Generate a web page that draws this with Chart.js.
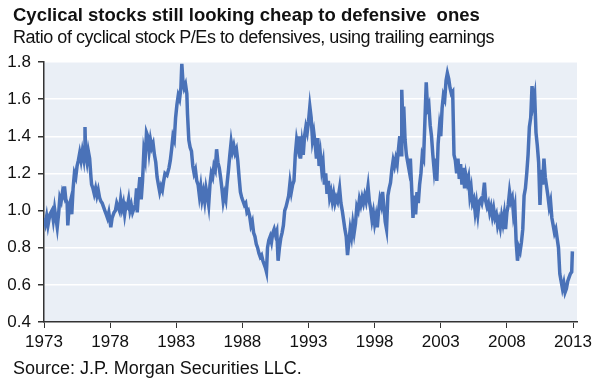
<!DOCTYPE html>
<html>
<head>
<meta charset="utf-8">
<script src="https://cdn.jsdelivr.net/npm/chart.js@4"></script>
<style>
  body { margin: 0; background: #fff; font-family: 'Liberation Sans', Arial, sans-serif; }
  #wrap { position: relative; width: 600px; height: 390px; }
  canvas { position: absolute; left: 0; top: 0; }
  .txt { position: absolute; left: 13px; white-space: pre; color: #111; line-height: 1; }
  #title { top: 6px; font-size: 18.5px; font-weight: bold; }
  #subtitle { top: 28px; font-size: 18px; letter-spacing: -0.45px; }
  #source { top: 359px; font-size: 18px; letter-spacing: 0px; }
</style>
</head>
<body>
<div id="wrap">
  <canvas id="chart" width="600" height="390"></canvas>
  <div class="txt" id="title">Cyclical stocks still looking cheap to defensive  ones</div>
  <div class="txt" id="subtitle">Ratio of cyclical stock P/Es to defensives, using trailing earnings</div>
  <div class="txt" id="source">Source: J.P. Morgan Securities LLC.</div>
</div>
<script>
// ratio of cyclical to defensive P/E
const years = [
  1973.0,1973.1,1973.2,1973.3,1973.45,1973.6,1973.7,1973.8,1973.9,1974.0,
  1974.1,1974.2,1974.3,1974.4,1974.5,1974.55,1974.65,1974.75,1974.8,1974.9,
  1975.0,1975.1,1975.2,1975.3,1975.4,1975.5,1975.6,1975.7,1975.8,1975.9,
  1976.0,1976.05,1976.1,1976.15,1976.25,1976.35,1976.45,1976.55,1976.6,1976.7,
  1976.8,1976.9,1977.0,1977.1,1977.2,1977.3,1977.4,1977.5,1977.6,1977.7,
  1977.8,1977.9,1978.0,1978.05,1978.15,1978.3,1978.4,1978.5,1978.6,1978.7,
  1978.8,1978.9,1979.0,1979.1,1979.2,1979.3,1979.4,1979.5,1979.6,1979.7,
  1979.8,1979.9,1980.0,1980.05,1980.15,1980.25,1980.35,1980.45,1980.55,1980.65,
  1980.75,1980.85,1980.95,1981.05,1981.15,1981.25,1981.35,1981.45,1981.55,1981.65,
  1981.75,1981.85,1981.95,1982.05,1982.15,1982.3,1982.45,1982.55,1982.65,1982.75,
  1982.85,1982.95,1983.05,1983.15,1983.25,1983.35,1983.42,1983.5,1983.6,1983.7,
  1983.8,1983.85,1983.95,1984.05,1984.15,1984.25,1984.35,1984.45,1984.55,1984.65,
  1984.75,1984.85,1984.95,1985.05,1985.15,1985.25,1985.35,1985.45,1985.55,1985.65,
  1985.75,1985.85,1985.95,1986.05,1986.15,1986.25,1986.35,1986.45,1986.55,1986.65,
  1986.75,1986.85,1986.95,1987.05,1987.15,1987.25,1987.35,1987.45,1987.55,1987.65,
  1987.75,1987.85,1987.95,1988.05,1988.15,1988.25,1988.35,1988.45,1988.55,1988.65,
  1988.75,1988.85,1988.95,1989.05,1989.15,1989.25,1989.35,1989.45,1989.55,1989.65,
  1989.75,1989.82,1989.9,1990.0,1990.1,1990.2,1990.3,1990.4,1990.5,1990.6,
  1990.7,1990.8,1990.9,1991.0,1991.1,1991.2,1991.3,1991.4,1991.5,1991.6,
  1991.7,1991.8,1991.9,1992.0,1992.1,1992.2,1992.3,1992.4,1992.5,1992.6,
  1992.7,1992.8,1992.9,1993.0,1993.1,1993.2,1993.3,1993.4,1993.5,1993.6,
  1993.7,1993.8,1993.9,1994.0,1994.1,1994.2,1994.3,1994.4,1994.5,1994.6,
  1994.7,1994.8,1994.9,1995.0,1995.1,1995.2,1995.35,1995.45,1995.55,1995.65,
  1995.75,1995.85,1995.95,1996.05,1996.15,1996.25,1996.35,1996.45,1996.55,1996.65,
  1996.75,1996.85,1996.95,1997.05,1997.15,1997.25,1997.35,1997.5,1997.6,1997.7,
  1997.8,1997.9,1998.0,1998.1,1998.2,1998.3,1998.4,1998.5,1998.6,1998.7,
  1998.8,1998.9,1999.0,1999.1,1999.2,1999.3,1999.4,1999.5,1999.6,1999.7,
  1999.8,1999.9,2000.0,2000.05,2000.12,2000.2,2000.3,2000.4,2000.5,2000.6,
  2000.7,2000.8,2000.9,2001.0,2001.1,2001.2,2001.3,2001.4,2001.5,2001.6,
  2001.7,2001.8,2001.9,2002.0,2002.1,2002.2,2002.3,2002.4,2002.5,2002.6,
  2002.7,2002.8,2002.9,2003.0,2003.1,2003.2,2003.3,2003.4,2003.5,2003.6,
  2003.7,2003.8,2003.9,2004.0,2004.1,2004.2,2004.3,2004.4,2004.5,2004.6,
  2004.7,2004.8,2004.9,2005.0,2005.1,2005.2,2005.3,2005.4,2005.5,2005.6,
  2005.7,2005.8,2005.9,2006.0,2006.1,2006.2,2006.3,2006.4,2006.5,2006.6,
  2006.7,2006.8,2006.9,2007.0,2007.1,2007.2,2007.3,2007.4,2007.5,2007.6,
  2007.7,2007.8,2007.9,2008.0,2008.1,2008.2,2008.3,2008.4,2008.5,2008.6,
  2008.7,2008.8,2008.9,2009.0,2009.1,2009.2,2009.3,2009.4,2009.5,2009.6,
  2009.7,2009.8,2009.9,2010.0,2010.1,2010.2,2010.3,2010.4,2010.5,2010.6,
  2010.7,2010.8,2010.9,2011.0,2011.1,2011.2,2011.3,2011.4,2011.5,2011.6,
  2011.7,2011.8,2011.9,2012.0,2012.1,2012.2,2012.3,2012.4,2012.5,2012.6,
  2012.7,2012.8,2012.9,2012.95
];
const ratio = [
  0.96,0.93,0.97,0.92,0.98,1.00,0.95,1.01,0.96,0.91,
  0.98,1.07,1.05,1.10,1.08,1.13,1.06,1.04,0.92,1.02,
  1.05,0.98,1.12,1.20,1.18,1.24,1.27,1.31,1.27,1.32,
  1.28,1.34,1.45,1.30,1.26,1.32,1.28,1.18,1.14,1.12,
  1.09,1.12,1.08,1.11,1.07,1.05,1.04,1.02,1.00,0.98,
  0.96,0.99,0.94,0.91,0.96,0.99,1.00,1.04,1.02,1.00,
  1.06,1.01,1.04,0.98,1.03,1.02,1.06,1.00,1.03,0.99,
  1.01,1.03,1.12,0.99,1.10,1.18,1.06,1.16,1.32,1.28,
  1.42,1.40,1.32,1.38,1.34,1.36,1.30,1.26,1.18,1.14,
  1.10,1.13,1.11,1.16,1.20,1.19,1.23,1.27,1.33,1.40,
  1.38,1.50,1.57,1.62,1.60,1.66,1.79,1.70,1.66,1.68,
  1.63,1.52,1.38,1.34,1.32,1.24,1.20,1.22,1.16,1.14,
  1.08,1.13,1.06,1.10,1.05,1.12,1.08,1.03,1.14,1.20,
  1.18,1.24,1.22,1.33,1.26,1.23,1.18,1.12,1.05,1.09,
  1.06,1.15,1.22,1.30,1.37,1.32,1.35,1.31,1.33,1.27,
  1.18,1.10,1.07,1.05,1.03,1.04,0.99,1.00,0.97,0.92,
  0.94,0.88,0.86,0.82,0.80,0.77,0.75,0.76,0.73,0.71,
  0.69,0.67,0.80,0.84,0.86,0.83,0.88,0.90,0.87,0.89,
  0.73,0.80,0.85,0.88,0.92,1.00,1.02,1.05,1.08,1.15,
  1.10,1.14,1.16,1.30,1.38,1.34,1.40,1.28,1.36,1.30,
  1.40,1.45,1.42,1.48,1.56,1.50,1.38,1.42,1.36,1.28,
  1.39,1.24,1.30,1.22,1.26,1.14,1.20,1.09,1.16,1.07,
  1.10,1.05,1.09,1.04,1.07,1.05,1.12,1.04,1.00,0.95,
  0.90,0.86,0.76,0.83,0.90,0.86,0.93,0.88,0.93,1.02,
  1.00,1.06,1.03,1.07,1.04,1.08,1.05,1.13,1.05,1.01,
  0.95,0.99,0.93,0.97,0.91,1.00,1.06,1.03,1.10,1.02,
  0.94,0.90,1.08,1.12,1.15,1.22,1.27,1.24,1.28,1.25,
  1.33,1.40,1.30,1.65,1.50,1.56,1.38,1.30,1.26,1.22,
  1.28,1.12,0.96,1.08,0.98,1.10,1.04,1.14,1.20,1.30,
  1.28,1.48,1.69,1.55,1.57,1.46,1.40,1.30,1.22,1.28,
  1.16,1.36,1.45,1.40,1.55,1.62,1.60,1.70,1.74,1.71,
  1.66,1.63,1.64,1.30,1.27,1.20,1.28,1.17,1.25,1.14,
  1.23,1.12,1.19,1.15,1.18,1.08,1.12,1.04,1.06,0.99,
  1.04,0.98,1.05,1.06,1.04,1.08,1.15,1.05,1.02,1.04,
  0.99,1.02,0.97,1.01,0.96,0.98,0.92,0.95,0.91,0.97,
  0.93,0.98,0.90,0.99,1.03,1.10,1.05,1.07,0.98,1.02,
  0.83,0.73,0.80,0.78,0.83,0.90,1.08,1.12,1.20,1.30,
  1.45,1.50,1.67,1.58,1.62,1.42,1.35,1.26,1.03,1.22,
  1.14,1.28,1.18,1.13,1.08,1.02,1.05,0.96,0.92,0.88,
  0.90,0.85,0.80,0.66,0.62,0.58,0.61,0.56,0.58,0.62,
  0.64,0.66,0.67,0.78
];
const xTicks = [1973, 1978, 1983, 1988, 1993, 1998, 2003, 2008, 2013];
const yTicks = [0.4, 0.6, 0.8, 1.0, 1.2, 1.4, 1.6, 1.8];

const axisC = '#333', textC = '#111';
const plotBg = {
  id: 'plotBg',
  beforeDraw(chart) {
    const a = chart.chartArea, ctx = chart.ctx;
    ctx.save();
    ctx.fillStyle = '#eaeff6';
    ctx.fillRect(a.left, a.top, a.right - a.left, a.bottom - a.top);
    ctx.restore();
  }
};

new Chart(document.getElementById('chart'), {
  type: 'line',
  data: {
    datasets: [{
      data: years.map((y, i) => ({ x: y, y: ratio[i] })),
      borderColor: '#4a72b8',
      borderWidth: 3.5,
      pointRadius: 0,
      tension: 0
    }]
  },
  options: {
    responsive: false,
    animation: false,
    layout: { padding: { top: 62, right: 23, bottom: 0, left: 0 } },
    plugins: { legend: { display: false }, tooltip: { enabled: false } },
    scales: {
      x: {
        type: 'linear', min: 1973, max: 2013.3,
        afterBuildTicks: s => { s.ticks = xTicks.map(v => ({ value: v })); },
        afterFit: s => { s.height = 68; },
        grid: { drawOnChartArea: false, drawTicks: true, tickLength: 6, tickColor: axisC },
        border: { color: axisC, width: 1.5 },
        ticks: { color: textC, font: { size: 17, family: 'Liberation Sans' }, padding: 4, maxRotation: 0, callback: v => String(v) }
      },
      y: {
        min: 0.4, max: 1.8,
        afterBuildTicks: s => { s.ticks = yTicks.map(v => ({ value: v })); },
        afterFit: s => { s.width = 44; },
        grid: { color: '#ffffff', lineWidth: 1.5, tickLength: 6, tickColor: axisC },
        border: { color: axisC, width: 1.5 },
        ticks: { color: textC, font: { size: 17, family: 'Liberation Sans' }, padding: 7, callback: v => v.toFixed(1) }
      }
    }
  },
  plugins: [plotBg]
});
</script>
</body>
</html>
